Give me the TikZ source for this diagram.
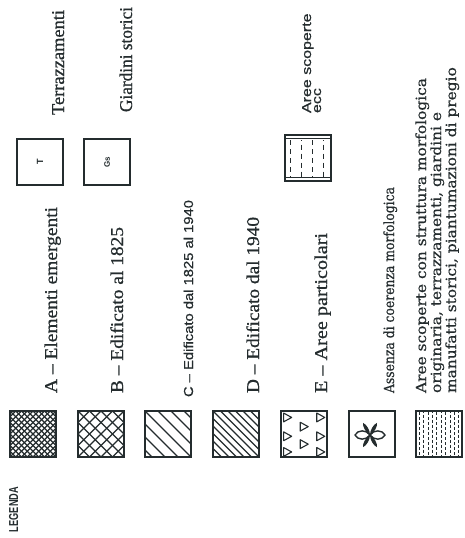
\documentclass[tikz,border=0pt]{standalone}
\usepackage{fontspec}
\setmainfont{Liberation Serif}
\newfontfamily\serifb[FakeBold=0.7]{Liberation Serif}
\newfontfamily\slabf[FakeBold=0.5]{DejaVu Serif}
\newfontfamily\hsans{Liberation Sans}
\newfontfamily\hsansb[FakeBold=0.5]{Liberation Sans}
\usepackage{graphicx}
\usetikzlibrary{calc}
\definecolor{ink}{RGB}{36,44,46}
\newcommand\fitw[2]{\resizebox{#1}{\height}{#2}}
\newlength\lonew
\settowidth\lonew{\slabf\fontsize{14}{16}\selectfont Aree scoperte con struttura morfologica}
\pgfmathsetmacro\lfac{315/\lonew}
\begin{document}
\begin{tikzpicture}[x=1pt,y=-1pt,
  every node/.style={text=ink},
  box/.style={draw=ink, line width=1.4pt, minimum size=46pt, inner sep=0pt, outer sep=0pt},
  hatch/.style={draw=ink, line width=1.2pt},
  lbl/.style={rotate=90, anchor=base west, inner sep=0pt, outer sep=0pt},
  serifl/.style={font=\serifb\fontsize{18}{20}\selectfont},
  slabl/.style={font=\slabf\fontsize{14}{16}\selectfont},
]
\useasboundingbox[fill=white] (0,0) rectangle (464,538);

% ---------- boxes ----------
\node[box] (bA) at (33,434) {};
\node[box] (bB) at (101,434) {};
\node[box] (bC) at (168,434) {};
\node[box] (bD) at (236,434) {};
\node[box] (bE) at (304,434) {};
\node[box] (bS) at (372,434) {};
\node[box] (bF) at (439,434) {};
\node[box] (bT) at (40,162) {};
\node[box] (bG) at (107,162) {};
\node[box] (bH) at (308,158) {};

% A: dense cross hatch
\begin{scope}
\clip (bA.south west) rectangle (bA.north east);
\foreach \k in {-57.5,-51.75,...,57.6} {
  \draw[hatch, line width=1.4pt] ([xshift=\k pt]bA.center) ++(-30,-30) -- ++(60,60);
  \draw[hatch, line width=1.4pt] ([xshift=\k pt]bA.center) ++(-30,30) -- ++(60,-60);
}
\end{scope}
% B: wide cross hatch
\begin{scope}
\clip (bB.south west) rectangle (bB.north east);
\foreach \k in {-57.5,-46,...,57.6} {
  \draw[hatch, line width=1.3pt] ([xshift=\k pt]bB.center) ++(-30,-30) -- ++(60,60);
  \draw[hatch, line width=1.3pt] ([xshift=\k pt]bB.center) ++(-30,30) -- ++(60,-60);
}
\end{scope}
% C: wide single hatch
\begin{scope}
\clip (bC.south west) rectangle (bC.north east);
\foreach \k in {-65,-52,...,66} {
  \draw[hatch] ([xshift=\k pt]bC.center) ++(-30,-30) -- ++(60,60);
}
\end{scope}
% D: dense single hatch
\begin{scope}
\clip (bD.south west) rectangle (bD.north east);
\foreach \k in {-60,-52.5,...,61} {
  \draw[hatch] ([xshift=\k pt]bD.center) ++(-30,-30) -- ++(60,60);
}
\end{scope}
% E: triangles
\begin{scope}
\clip (bE.south west) rectangle (bE.north east);
\foreach \u/\v in {0.14/0.14,0.14/0.55,0.14/0.89,0.5/0.34,0.5/0.72,0.86/0.14,0.86/0.55,0.86/0.89} {
  \draw[ink, line width=1.1pt, line join=round] ($(bE.north west)+(\u*46,\v*46)$) ++(-3.8,-4.4) -- ++(0,8.8) -- ++(8,-4.4) -- cycle;
}
\end{scope}
% asterisk
\begin{scope}[shift={(bS.center)}, xshift=-2pt, yshift=-1pt]
\draw[ink, line width=1.4pt] (0,0) .. controls (4,5.5) and (12,5.5) .. (15,0) .. controls (12,-5.5) and (4,-5.5) .. (0,0);
\draw[ink, line width=1.4pt] (0,0) .. controls (-4,5.5) and (-12,5.5) .. (-15,0) .. controls (-12,-5.5) and (-4,-5.5) .. (0,0);
\foreach \a in {60,120,240,300} {
  \fill[ink, rotate=\a] (0,0) .. controls (4,2.4) and (11,2.4) .. (14,0) .. controls (11,-2.4) and (4,-2.4) .. (0,0);
}
\end{scope}
% F: dense dashed columns
\begin{scope}
\clip (bF.south west) rectangle (bF.north east);
\foreach \i/\ph in {0/0,1/2.5,2/0,3/2.5,4/0,5/2.5,6/0,7/2.5,8/0,9/2.5} {
  \draw[ink, line width=0.9pt, dash pattern=on 3pt off 2pt, dash phase=\ph pt] ($(bF.north west)+(3.2+\i*4.4,1)$) -- ++(0,44);
}
\end{scope}
% H: sparse dashed columns
\begin{scope}
\clip (bH.south west) rectangle (bH.north east);
\foreach \x/\ph in {5/0,16/4.5,27/0,38/4.5} {
  \draw[ink, line width=1pt, dash pattern=on 5pt off 4pt, dash phase=\ph pt] ($(bH.north west)+(\x,5)$) -- ++(0,37);
}
\draw[ink, line width=0.8pt] ($(bH.north west)+(0,3.5)$) -- ++(46,0);
\draw[ink, line width=0.8pt] ($(bH.south west)+(0,-3.5)$) -- ++(46,0);
\end{scope}

% small letters in boxes
\node[rotate=90, font=\hsans\bfseries\fontsize{9}{10}\selectfont] (lT) at (bT.center) {T};
\node[rotate=90, font=\hsans\bfseries\fontsize{8}{9}\selectfont] (lG) at (bG.center) {Gs};

% ---------- labels ----------
\node[lbl, font=\hsans\bfseries\fontsize{13}{15}\selectfont] (leg) at (18,532) {\fitw{45pt}{LEGENDA}};
\node[lbl, serifl] (tA) at (57,393) {\fitw{186pt}{A – Elementi emergenti}};
\node[lbl, serifl] (tT) at (64,115) {\fitw{105pt}{Terrazzamenti}};
\node[lbl, serifl] (tB) at (123,393) {\fitw{166pt}{B – Edificato al 1825}};
\node[lbl, serifl] (tG) at (132,112) {\fitw{105pt}{Giardini storici}};
\node[lbl, font=\hsansb\fontsize{13}{15}\selectfont] (tC) at (193,397) {\fitw{197pt}{C – Edificato dal 1825 al 1940}};
\node[lbl, serifl] (tD) at (259,393) {\fitw{176pt}{D – Edificato dal 1940}};
\node[lbl, serifl] (tE) at (327,393) {\fitw{160pt}{E – Aree particolari}};
\node[lbl, font=\hsansb\fontsize{13}{15}\selectfont] (tH1) at (311,113) {\scalebox{1.23}[1]{Aree scoperte}};
\node[lbl, font=\hsansb\fontsize{13}{15}\selectfont] (tH2) at (321,113) {\scalebox{1.23}[1]{ecc}};
\node[lbl, slabl] (tS) at (394,393) {\fitw{206pt}{Assenza di coerenza morfologica}};
\node[lbl, slabl] (tF1) at (426,393) {\scalebox{\lfac}[1]{Aree scoperte con struttura morfologica}};
\node[lbl, slabl] (tF2) at (441,393) {\scalebox{\lfac}[1]{originaria, terrazzamenti, giardini e}};
\node[lbl, slabl] (tF3) at (456,393) {\scalebox{\lfac}[1]{manufatti storici, piantumazioni di pregio}};
\end{tikzpicture}
\end{document}
